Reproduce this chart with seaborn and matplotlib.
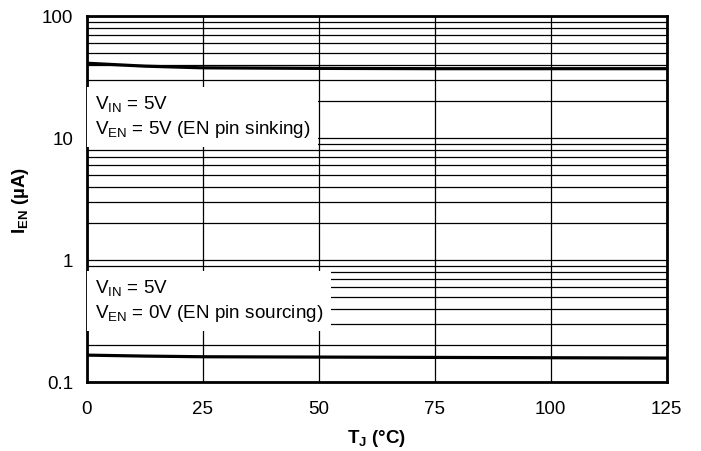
import matplotlib
matplotlib.use("Agg")
import matplotlib.pyplot as plt
import seaborn as sns
import pandas as pd
import numpy as np
from matplotlib.ticker import LogLocator, FixedLocator, NullFormatter

# Junction temperature (°C)
temp_c = [0, 12.5, 25, 50, 75, 100, 125]
# EN pin current, VEN = 5V (sinking), µA
i_sinking = [41.0, 38.8, 37.6, 37.2, 37.0, 37.0, 37.0]
# EN pin current, VEN = 0V (sourcing), µA
i_sourcing = [0.166, 0.163, 0.161, 0.160, 0.159, 0.158, 0.157]

x_ticks = [0, 25, 50, 75, 100, 125]
y_ticks = [0.1, 1, 10, 100]
y_tick_labels = ["0.1", "1", "10", "100"]

sns.set_theme(style="white")
plt.rcParams["font.family"] = ["Liberation Sans", "DejaVu Sans"]
plt.rcParams["mathtext.fontset"] = "custom"
plt.rcParams["mathtext.rm"] = "Liberation Sans"
plt.rcParams["mathtext.bf"] = "Liberation Sans:bold"
plt.rcParams["text.color"] = "black"
plt.rcParams["axes.labelcolor"] = "black"

df = pd.DataFrame({"T": temp_c * 2,
                   "I": i_sinking + i_sourcing,
                   "cond": ["sink"] * len(temp_c) + ["source"] * len(temp_c)})

fig = plt.figure(figsize=(7.01, 4.52), dpi=100)
ax = fig.add_axes([0.124, 0.1527, 0.827, 0.8097])

sns.lineplot(data=df, x="T", y="I", units="cond", estimator=None,
             color="black", linewidth=2.3, ax=ax, zorder=3, legend=False)

ax.set_yscale("log")
ax.set_xlim(0, 125)
ax.set_ylim(0.1, 100)

ax.xaxis.set_major_locator(FixedLocator(x_ticks))
ax.set_xticklabels([str(t) for t in x_ticks])
ax.yaxis.set_major_locator(FixedLocator(y_ticks))
ax.set_yticklabels(y_tick_labels)
ax.yaxis.set_minor_locator(LogLocator(base=10, subs=np.arange(2, 10)))
ax.yaxis.set_minor_formatter(NullFormatter())

ax.grid(True, which="major", axis="both", color="black", linewidth=0.9)
ax.grid(True, which="minor", axis="y", color="black", linewidth=0.9)
ax.set_axisbelow(True)

ax.tick_params(axis="x", which="both", length=0, labelsize=13.5,
               colors="black", pad=13)
ax.tick_params(axis="y", which="both", length=0, labelsize=13.5,
               colors="black", pad=10)

for s in ax.spines.values():
    s.set_color("black")
    s.set_linewidth(2.0)

ax.set_xlabel(r"T$_{\mathbf{J}}$ (°C)", fontsize=13.5, fontweight="bold", labelpad=7)
ax.set_ylabel(r"I$_{\mathbf{EN}}$ (µA)", fontsize=13.5, fontweight="bold", labelpad=8)

box = dict(facecolor="white", edgecolor="none", boxstyle="square,pad=0.4")
ax.text(0.0138, 0.7255,
        "V$_{\\mathrm{IN}}$ = 5V\nV$_{\\mathrm{EN}}$ = 5V (EN pin sinking)",
        transform=ax.transAxes, fontsize=13.6, va="center", ha="left",
        linespacing=1.25, bbox=box, zorder=4)
ax.text(0.0138, 0.2227,
        "V$_{\\mathrm{IN}}$ = 5V\nV$_{\\mathrm{EN}}$ = 0V (EN pin sourcing)",
        transform=ax.transAxes, fontsize=13.6, va="center", ha="left",
        linespacing=1.25, bbox=box, zorder=4)

fig.savefig("out.png", dpi=100)
